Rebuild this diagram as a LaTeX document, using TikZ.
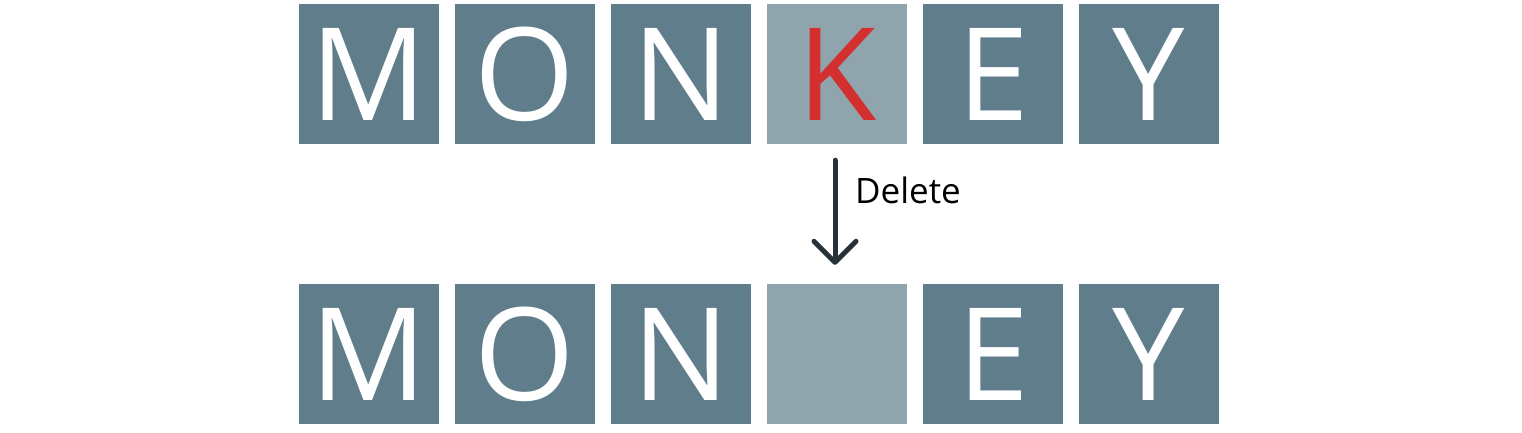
\documentclass[tikz,border=0pt]{standalone}
\usepackage{fontspec}
\setmainfont{Open Sans}
\usetikzlibrary{arrows.meta}
\definecolor{tiledark}{HTML}{607D8B}
\definecolor{tilelight}{HTML}{90A4AE}
\definecolor{letterred}{HTML}{D32F2F}
\definecolor{arrowdark}{HTML}{263238}
\tikzset{
  tile/.style={fill=tiledark, minimum width=140pt, minimum height=140pt, inner sep=0pt, text=white, font=\fontsize{129}{129}\selectfont},
  tilehl/.style={tile, fill=tilelight},
  lbltext/.style={text=black, font=\fontsize{35}{35}\selectfont, inner sep=0pt},
}
\begin{document}
\begin{tikzpicture}[x=1pt,y=-1pt]
\useasboundingbox (0,0) rectangle (1522,432);
\node[tile] (t1) at (369,74) {M};
\node[tile] (t2) at (525,74) {O};
\node[tile] (t3) at (681,74) {N};
\node[tilehl, text=letterred] (t4) at (837,74) {K};
\node[tile] (t5) at (993,74) {E};
\node[tile] (t6) at (1149,74) {Y};
\node[tile] (b1) at (369,354) {M};
\node[tile] (b2) at (525,354) {O};
\node[tile] (b3) at (681,354) {N};
\node[tilehl] (b4) at (837,354) {};
\node[tile] (b5) at (993,354) {E};
\node[tile] (b6) at (1149,354) {Y};
\draw[arrowdark, line width=5pt, line cap=round, shorten <=16pt, shorten >=19pt,
  -{Straight Barb[length=21pt,width=42pt,line cap=round,line join=round]}]
  ([xshift=-2pt]t4.south) -- ([xshift=-2pt]b4.north);
\node[lbltext, anchor=base west] (lbl) at (855,203) {Delete};
\end{tikzpicture}
\end{document}
